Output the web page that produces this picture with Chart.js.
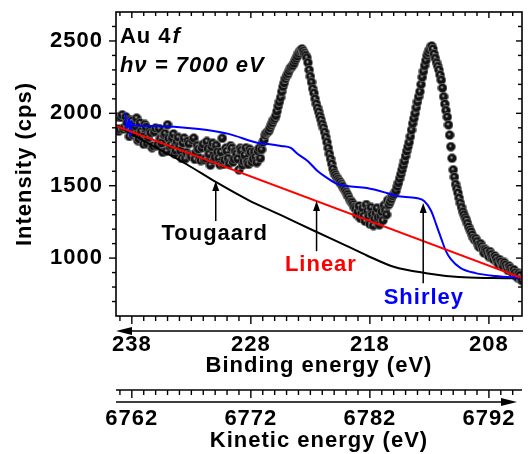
<!DOCTYPE html>
<html lang="en">
<head>
<meta charset="UTF-8">
<title>Au 4f background</title>
<script src="https://cdn.jsdelivr.net/npm/chart.js"></script>
<style>
  body { margin: 0; background: #fff; }
  #chart { display: block; }
</style>
</head>
<body>
<canvas id="chart" width="528" height="454"></canvas>
<script>
// measured spectrum, binding energy (eV) and intensity (cps)
const bindingEnergy = [
  239.2, 239.1, 239.0, 238.9, 238.8, 238.7, 238.6, 238.5, 238.4, 238.3,
  238.2, 238.1, 238.0, 237.9, 237.8, 237.7, 237.6, 237.5, 237.4, 237.3,
  237.2, 237.1, 237.0, 236.9, 236.8, 236.7, 236.6, 236.5, 236.4, 236.3,
  236.2, 236.1, 236.0, 235.9, 235.8, 235.7, 235.6, 235.5, 235.4, 235.3,
  235.2, 235.1, 235.0, 234.9, 234.8, 234.7, 234.6, 234.5, 234.4, 234.3,
  234.2, 234.1, 234.0, 233.9, 233.8, 233.7, 233.6, 233.5, 233.4, 233.3,
  233.2, 233.1, 233.0, 232.9, 232.8, 232.7, 232.6, 232.5, 232.4, 232.3,
  232.2, 232.1, 232.0, 231.9, 231.8, 231.7, 231.6, 231.5, 231.4, 231.3,
  231.2, 231.1, 231.0, 230.9, 230.8, 230.7, 230.6, 230.5, 230.4, 230.3,
  230.2, 230.1, 230.0, 229.9, 229.8, 229.7, 229.6, 229.5, 229.4, 229.3,
  229.2, 229.1, 229.0, 228.9, 228.8, 228.7, 228.6, 228.5, 228.4, 228.3,
  228.2, 228.1, 228.0, 227.9, 227.8, 227.7, 227.6, 227.5, 227.4, 227.3,
  227.2, 227.1, 227.0, 226.9, 226.8, 226.7, 226.6, 226.5, 226.4, 226.3,
  226.2, 226.1, 226.0, 225.9, 225.8, 225.7, 225.6, 225.5, 225.4, 225.3,
  225.2, 225.1, 225.0, 224.9, 224.8, 224.7, 224.6, 224.5, 224.4, 224.3,
  224.2, 224.1, 224.0, 223.9, 223.8, 223.7, 223.6, 223.5, 223.4, 223.3,
  223.2, 223.1, 223.0, 222.9, 222.8, 222.7, 222.6, 222.5, 222.4, 222.3,
  222.2, 222.1, 222.0, 221.9, 221.8, 221.7, 221.6, 221.5, 221.4, 221.3,
  221.2, 221.1, 221.0, 220.9, 220.8, 220.7, 220.6, 220.5, 220.4, 220.3,
  220.2, 220.1, 220.0, 219.9, 219.8, 219.7, 219.6, 219.5, 219.4, 219.3,
  219.2, 219.1, 219.0, 218.9, 218.8, 218.7, 218.6, 218.5, 218.4, 218.3,
  218.2, 218.1, 218.0, 217.9, 217.8, 217.7, 217.6, 217.5, 217.4, 217.3,
  217.2, 217.1, 217.0, 216.9, 216.8, 216.7, 216.6, 216.5, 216.4, 216.3,
  216.2, 216.1, 216.0, 215.9, 215.8, 215.7, 215.6, 215.5, 215.4, 215.3,
  215.2, 215.1, 215.0, 214.9, 214.8, 214.7, 214.6, 214.5, 214.4, 214.3,
  214.2, 214.1, 214.0, 213.9, 213.8, 213.7, 213.6, 213.5, 213.4, 213.3,
  213.2, 213.1, 213.0, 212.9, 212.8, 212.7, 212.6, 212.5, 212.4, 212.3,
  212.2, 212.1, 212.0, 211.9, 211.8, 211.7, 211.6, 211.5, 211.4, 211.3,
  211.2, 211.1, 211.0, 210.9, 210.8, 210.7, 210.6, 210.5, 210.4, 210.3,
  210.2, 210.1, 210.0, 209.9, 209.8, 209.7, 209.6, 209.5, 209.4, 209.3,
  209.2, 209.1, 209.0, 208.9, 208.8, 208.7, 208.6, 208.5, 208.4, 208.3,
  208.2, 208.1, 208.0, 207.9, 207.8, 207.7, 207.6, 207.5, 207.4, 207.3,
  207.2, 207.1, 207.0, 206.9, 206.8, 206.7, 206.6, 206.5, 206.4, 206.3,
  206.2, 206.1, 206.0, 205.9, 205.8, 205.7, 205.6, 205.5, 205.4, 205.3,
  205.2
];
const intensity = [
  1975, 1877, 1890, 1972, 1990, 1892, 1905, 1976, 1933, 1889,
  1840, 1956, 1947, 1853, 1865, 1911, 1967, 1812, 1823, 1934,
  1875, 1836, 1787, 1923, 1905, 1791, 1833, 1879, 1866, 1763,
  1775, 1872, 1899, 1776, 1783, 1895, 1827, 1794, 1731, 1853,
  1861, 1738, 1921, 1828, 1771, 1783, 1831, 1858, 1721, 1744,
  1802, 1834, 1772, 1740, 1688, 1796, 1829, 1687, 1730, 1808,
  1791, 1714, 1702, 1815, 1829, 1682, 1730, 1778, 1752, 1690,
  1674, 1762, 1786, 1679, 1688, 1806, 1755, 1718, 1642, 1770,
  1794, 1677, 1696, 1779, 1733, 1691, 1645, 1734, 1828, 1647,
  1676, 1760, 1739, 1688, 1652, 1776, 1760, 1664, 1683, 1737,
  1721, 1685, 1610, 1759, 1744, 1643, 1668, 1712, 1762, 1662,
  1647, 1752, 1733, 1664, 1686, 1735, 1700, 1660, 1740, 1760,
  1690, 1750, 1800, 1815, 1850, 1865, 1870, 1880, 1900, 1920,
  1935, 1955, 1965, 1985, 2015, 2050, 2080, 2110, 2150, 2185,
  2210, 2240, 2260, 2275, 2295, 2310, 2320, 2330, 2345, 2365,
  2380, 2395, 2415, 2430, 2435, 2445, 2430, 2415, 2400, 2385,
  2350, 2300, 2255, 2215, 2170, 2140, 2100, 2065, 2037, 2010,
  1980, 1955, 1925, 1900, 1870, 1835, 1800, 1760, 1720, 1685,
  1650, 1615, 1590, 1575, 1560, 1545, 1535, 1525, 1510, 1495,
  1480, 1470, 1455, 1440, 1425, 1405, 1390, 1385, 1370, 1350,
  1340, 1300, 1320, 1360, 1275, 1310, 1345, 1290, 1255, 1370,
  1325, 1285, 1235, 1350, 1300, 1225, 1270, 1310, 1345, 1280,
  1230, 1290, 1320, 1260, 1365, 1330, 1300, 1400, 1370, 1390,
  1410, 1430, 1440, 1455, 1465, 1495, 1520, 1550, 1580, 1610,
  1640, 1670, 1705, 1740, 1770, 1800, 1840, 1885, 1930, 1965,
  2000, 2040, 2080, 2115, 2150, 2200, 2250, 2290, 2330, 2365,
  2400, 2420, 2440, 2460, 2465, 2445, 2410, 2380, 2350, 2325,
  2300, 2265, 2230, 2175, 2115, 2065, 2020, 1975, 1920, 1850,
  1770, 1690, 1610, 1560, 1510, 1480, 1450, 1415, 1380, 1350,
  1320, 1300, 1280, 1265, 1240, 1215, 1195, 1180, 1160, 1140,
  1125, 1135, 1115, 1090, 1075, 1100, 1080, 1060, 1035, 1060,
  1050, 1030, 1010, 1045, 1025, 1000, 990, 1015, 1000, 980,
  960, 990, 975, 955, 945, 970, 955, 935, 915, 945,
  930, 910, 895, 920, 900, 880, 865, 895, 880, 850,
  845
];

// backgrounds
const shirleyBE = [238.54, 238.46, 238.21, 238.12, 238.04, 237.92, 236.51, 232.36, 229.87, 227.38,
  226.55, 225.47, 224.64, 224.06, 223.23, 222.40, 221.57, 220.74, 219.91, 218.25, 216.59, 215.76,
  214.10, 213.44, 212.85, 212.44, 212.02, 211.61, 211.20, 210.37, 209.12, 207.46, 205.22];
const shirleyI = [2003, 1892, 1961, 1837, 1947, 1920, 1913, 1892, 1858, 1795,
  1788, 1775, 1761, 1719, 1671, 1602, 1553, 1512, 1498, 1484, 1450, 1429,
  1415, 1394, 1325, 1235, 1138, 1048, 993, 931, 896, 876, 862];
const tougaardBE = [239.33, 236.51, 233.44, 230.95, 228.21, 225.47, 222.65, 219.91, 218.25, 216.0, 213.27, 210.53, 207.71, 205.22];
const tougaardI = [1920, 1788, 1650, 1526, 1401, 1297, 1187, 1083, 1018, 940, 896, 869, 862, 860];
const linearBE = [239.33, 205.22];
const linearI = [1913, 862];

const photonEnergy = 7000;
const bindingTicks = [238, 228, 218, 208];
const kineticTicks = [6762, 6772, 6782, 6792];
const intensityTicks = [1000, 1500, 2000, 2500];

const beMin = 205.22, beMax = 239.33;
const iMin = 600, iMax = 2700;

const pts = (xs, ys) => xs.map((v, i) => ({x: v, y: ys[i]}));

// shaded ball marker
const ball = document.createElement('canvas');
ball.width = ball.height = 10;
(function () {
  const g = ball.getContext('2d');
  g.beginPath();
  g.arc(5, 5, 4.6, 0, Math.PI * 2);
  g.fillStyle = '#111';
  g.fill();
  g.strokeStyle = 'rgba(130,130,130,0.85)';
  g.lineWidth = 0.8;
  g.stroke();
  const hl = g.createRadialGradient(4.4, 4.1, 0.1, 4.6, 4.4, 2.2);
  hl.addColorStop(0, 'rgba(210,210,210,1)');
  hl.addColorStop(0.55, 'rgba(110,110,110,0.6)');
  hl.addColorStop(1, 'rgba(17,17,17,0)');
  g.fillStyle = hl;
  g.beginPath();
  g.arc(4.6, 4.4, 2.2, 0, Math.PI * 2);
  g.fill();
})();

const FONT = 'Arial, "Liberation Sans", sans-serif';

const frame = {
  id: 'frame',
  beforeDraw(chart) {
    chart.ctx.letterSpacing = '1px';
  },
  afterDraw(chart) {
    const {ctx, chartArea: a} = chart;
    const {x, y, x2} = chart.scales;
    ctx.save();
    ctx.strokeStyle = '#000';
    ctx.fillStyle = '#000';
    ctx.lineWidth = 1.6;
    ctx.strokeRect(a.left, a.top, a.right - a.left, a.bottom - a.top);

    const seg = (x0, y0, x1, y1) => {
      ctx.beginPath(); ctx.moveTo(x0, y0); ctx.lineTo(x1, y1); ctx.stroke();
    };
    ctx.lineWidth = 1.4;
    // binding energy ticks, bottom outward, top inward
    for (let be = 206; be <= 239; be++) {
      const px = x.getPixelForValue(be);
      const major = bindingTicks.includes(be);
      seg(px, a.bottom, px, a.bottom + (major ? 8 : 5));
      seg(px, a.top, px, a.top + (major ? 6 : 4));
    }
    // intensity ticks, left outward, right inward
    for (let v = 700; v <= 2600; v += 100) {
      const py = y.getPixelForValue(v);
      const major = v % 500 === 0;
      seg(a.left, py, a.left - (major ? 7 : 4), py);
      seg(a.right, py, a.right - (major ? 6 : 4), py);
    }
    // kinetic energy axis
    const ky = x2.top;
    ctx.lineWidth = 1.6;
    seg(a.left, ky, a.right, ky);
    ctx.lineWidth = 1.4;
    for (let ke = 6761; ke <= 6794; ke++) {
      const px = x2.getPixelForValue(ke);
      const major = kineticTicks.includes(ke);
      seg(px, ky, px, ky + (major ? 8 : 5));
    }

    // direction arrows below each axis
    const by = x.top + 15;
    ctx.lineWidth = 1.3;
    seg(a.left + 8, by, a.right + 1, by);
    ctx.beginPath();
    ctx.moveTo(a.left, by); ctx.lineTo(a.left + 16, by - 4); ctx.lineTo(a.left + 16, by + 4);
    ctx.closePath(); ctx.fill();
    const ay = x2.top + 12;
    seg(a.left, ay, a.right - 12, ay);
    ctx.beginPath();
    ctx.moveTo(a.right - 5, ay); ctx.lineTo(a.right - 21, ay - 4); ctx.lineTo(a.right - 21, ay + 4);
    ctx.closePath(); ctx.fill();

    // labelled arrows pointing at the backgrounds
    const upArrow = (be, tip, base, color) => {
      const px = x.getPixelForValue(be);
      const t = y.getPixelForValue(tip), b = y.getPixelForValue(base);
      ctx.strokeStyle = color; ctx.fillStyle = color; ctx.lineWidth = 1.5;
      seg(px, b, px, t + 6);
      ctx.beginPath();
      ctx.moveTo(px, t); ctx.lineTo(px - 3.5, t + 10); ctx.lineTo(px + 3.5, t + 10);
      ctx.closePath(); ctx.fill();
    };
    upArrow(230.95, 1532, 1256, '#000');
    upArrow(222.48, 1394, 1048, '#000');
    upArrow(213.52, 1380, 827, '#000');

    ctx.textBaseline = 'alphabetic';
    ctx.textAlign = 'left';
    const label = (txt, be, v, color, style) => {
      ctx.font = (style || 'bold') + ' 22px ' + FONT;
      ctx.fillStyle = color;
      ctx.fillText(txt, x.getPixelForValue(be), y.getPixelForValue(v));
      return ctx.measureText(txt).width;
    };
    label('Tougaard', 235.51, 1124, '#000');
    label('Linear', 225.14, 910, '#ff0000');
    label('Shirley', 216.84, 682, '#0000ff');

    // sample and photon energy
    const w = label('Au 4', 239.0, 2487, '#000');
    ctx.font = 'italic bold 22px ' + FONT;
    ctx.fillText('f', x.getPixelForValue(239.0) + w + 1, y.getPixelForValue(2487));
    label('h\u03bd = ' + photonEnergy + ' eV', 239.0, 2286, '#000', 'italic bold');
    ctx.restore();
  }
};

const noPadX = s => { s.paddingLeft = 0; s.paddingRight = 0; };

new Chart(document.getElementById('chart'), {
  type: 'scatter',
  data: {
    datasets: [
      {
        label: 'Linear', data: pts(linearBE, linearI), showLine: true,
        borderColor: '#ff0000', borderWidth: 2, pointRadius: 0, order: 0
      },
      {
        label: 'Shirley', data: pts(shirleyBE, shirleyI), showLine: true,
        borderColor: '#0000ff', borderWidth: 2, pointRadius: 0,
        cubicInterpolationMode: 'monotone', order: 0
      },
      {
        label: 'Tougaard', data: pts(tougaardBE, tougaardI), showLine: true,
        borderColor: '#000', borderWidth: 2, pointRadius: 0,
        cubicInterpolationMode: 'monotone', order: 0
      },
      {
        label: 'Au 4f', data: pts(bindingEnergy, intensity), showLine: false,
        pointStyle: ball, pointRadius: 5, order: 1
      }
    ]
  },
  options: {
    responsive: false,
    animation: false,
    devicePixelRatio: 1,
    layout: {padding: {left: 0, right: 1, top: 12, bottom: 0}},
    plugins: {legend: {display: false}, tooltip: {enabled: false}},
    scales: {
      x: {
        type: 'linear', position: 'bottom', reverse: true, weight: 0,
        min: beMin, max: beMax,
        grid: {display: false, drawTicks: false}, border: {display: false},
        afterBuildTicks: s => { s.ticks = bindingTicks.map(v => ({value: v})); },
        afterFit: s => { s.height = 74; noPadX(s); },
        ticks: {color: '#000', padding: 16, maxRotation: 0, font: {family: FONT, size: 22, weight: 'bold'}, callback: v => String(v)},
        title: {display: true, text: 'Binding energy (eV)', color: '#000', padding: {top: 0, bottom: 11},
          font: {family: FONT, size: 22, weight: 'bold'}}
      },
      x2: {
        type: 'linear', position: 'bottom', weight: 1,
        min: photonEnergy - beMax, max: photonEnergy - beMin,
        grid: {display: false, drawTicks: false}, border: {display: false},
        afterBuildTicks: s => { s.ticks = kineticTicks.map(v => ({value: v})); },
        afterFit: s => { s.height = 64; noPadX(s); },
        ticks: {color: '#000', padding: 16, maxRotation: 0, font: {family: FONT, size: 22, weight: 'bold'}, callback: v => String(v)},
        title: {display: true, text: 'Kinetic energy (eV)', color: '#000', padding: {top: 0, bottom: 0},
          font: {family: FONT, size: 22, weight: 'bold'}}
      },
      y: {
        type: 'linear', position: 'left', min: iMin, max: iMax,
        grid: {display: false, drawTicks: false}, border: {display: false},
        afterBuildTicks: s => { s.ticks = intensityTicks.map(v => ({value: v})); },
        afterFit: s => { s.width = 116; s.paddingTop = 0; s.paddingBottom = 0; },
        ticks: {color: '#000', padding: 13, font: {family: FONT, size: 22, weight: 'bold'}, callback: v => String(v)},
        title: {display: true, text: 'Intensity (cps)', color: '#000', padding: {top: 12, bottom: 0},
          font: {family: FONT, size: 22, weight: 'bold'}}
      }
    }
  },
  plugins: [frame]
});
</script>
</body>
</html>
